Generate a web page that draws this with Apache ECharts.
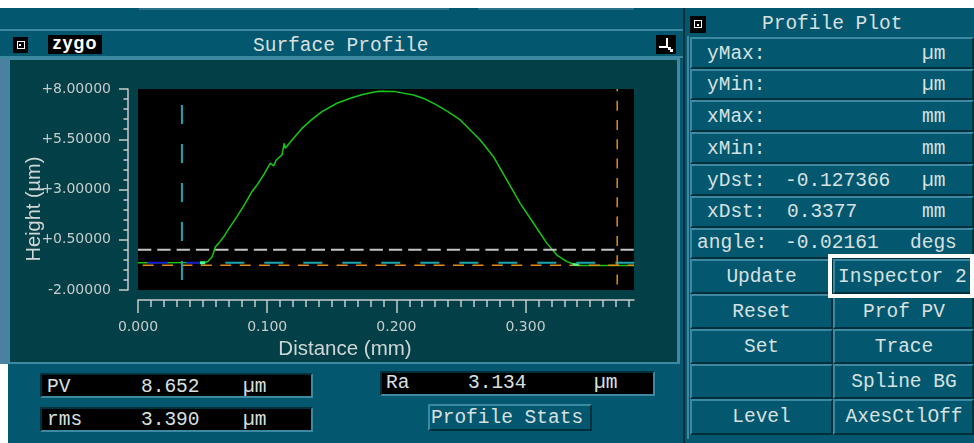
<!DOCTYPE html>
<html><head><meta charset="utf-8">
<script src="https://cdn.jsdelivr.net/npm/echarts@6/dist/echarts.min.js"></script>
<style>
html,body{margin:0;padding:0;background:#fff;width:974px;height:443px;overflow:hidden;}
#ui{position:absolute;left:0;top:0;width:974px;height:443px;overflow:hidden;font-family:"Liberation Mono",monospace;font-size:19.5px;color:#d8e0e0;}
.a{position:absolute;box-sizing:border-box;}
.t{position:absolute;white-space:pre;line-height:20px;height:20px;}
.c{position:absolute;white-space:pre;line-height:20px;height:20px;text-align:center;}
.r{background:#03586f;border-top:2px solid #3c89a1;border-left:2px solid #3c89a1;border-bottom:2px solid #01303c;border-right:2px solid #01303c;}
.s{background:#000;border-top:2px solid #01303c;border-left:2px solid #01303c;border-bottom:2px solid #3c89a1;border-right:2px solid #3c89a1;}
.ico{position:absolute;background:#000;}
.ico i{position:absolute;left:4px;top:4px;width:8px;height:8px;border:1px solid #fff;box-sizing:border-box;}
.ico b{position:absolute;width:2px;height:2px;background:#fff;}
#chart{position:absolute;left:0;top:0;width:974px;height:443px;pointer-events:none;}
</style></head><body>
<div id="ui">
  <!-- left window -->
  <div class="a" style="left:0;top:8px;width:690px;height:435px;background:#03586f"></div>
  <div class="a" style="left:139px;top:8px;width:310px;height:2px;background:#2a7189"></div>
  <div class="a" style="left:478px;top:8px;width:156px;height:2px;background:#2a7189"></div>
  <div class="a" style="left:0;top:29px;width:683px;height:2px;background:#3c89a1"></div>
  <div class="a" style="left:0;top:56px;width:683px;height:2px;background:#3c89a1"></div>
  <div class="a" style="left:0;top:58px;width:8px;height:306px;background:#4a80a0"></div>
  <div class="a" style="left:0;top:364px;width:8px;height:79px;background:#fff"></div>
  <div class="a" style="left:8px;top:58px;width:672px;height:306px;background:#3c89a1"></div>
  <div class="a" style="left:10px;top:60px;width:667px;height:302px;background:#023f47"></div>

  <div class="ico" style="left:13px;top:37px;width:15px;height:16px"><i></i><b style="left:6px;top:7px"></b></div>
  <div class="a" style="left:48px;top:35px;width:54px;height:19px;background:#000;color:#fff;font:bold 18px 'Liberation Sans',sans-serif;line-height:17px;text-align:center;letter-spacing:1px">zygo</div>
  <div class="t" style="left:253px;top:36px">Surface Profile</div>
  <div class="ico" style="left:656px;top:35px;width:20px;height:19px">
    <b style="left:10px;top:3px;width:2px;height:10px"></b>
    <b style="left:3px;top:11px;width:9px;height:2px"></b>
    <b style="left:12px;top:12px;width:3px;height:3px"></b>
    <b style="left:14px;top:14px;width:3px;height:3px"></b>
  </div>

  <!-- stats -->
  <div class="a s" style="left:40px;top:373px;width:273px;height:25px"></div>
  <div class="t" style="left:47px;top:377px">PV</div>
  <div class="t" style="left:141px;top:377px">8.652</div>
  <div class="t" style="left:243px;top:377px">µm</div>
  <div class="a s" style="left:40px;top:407px;width:273px;height:25px"></div>
  <div class="t" style="left:47px;top:410px">rms</div>
  <div class="t" style="left:141px;top:410px">3.390</div>
  <div class="t" style="left:243px;top:410px">µm</div>
  <div class="a s" style="left:380px;top:371px;width:275px;height:25px"></div>
  <div class="t" style="left:386px;top:373px">Ra</div>
  <div class="t" style="left:468px;top:373px">3.134</div>
  <div class="t" style="left:594px;top:373px">µm</div>
  <div class="a r" style="left:428px;top:404px;width:164px;height:27px"></div>
  <div class="t" style="left:431px;top:408px">Profile Stats</div>

  <!-- right panel -->
  <div class="a" style="left:683px;top:8px;width:291px;height:435px;background:#03586f;border-left:2px solid #01303c"></div>
  <div class="a" style="left:687px;top:36px;width:2px;height:403px;background:#3c89a1"></div>
  <div class="ico" style="left:690px;top:16px;width:16px;height:17px"><i></i><b style="left:7px;top:8px"></b></div>
  <div class="t" style="left:762px;top:14px">Profile Plot</div>

  <div class="a r" style="left:690px;top:37px;width:284px;height:32px"></div>
  <div class="a r" style="left:690px;top:69px;width:284px;height:31px"></div>
  <div class="a r" style="left:690px;top:100px;width:284px;height:32px"></div>
  <div class="a r" style="left:690px;top:132px;width:284px;height:32px"></div>
  <div class="a r" style="left:690px;top:164px;width:284px;height:32px"></div>
  <div class="a r" style="left:690px;top:196px;width:284px;height:32px"></div>
  <div class="a r" style="left:690px;top:228px;width:284px;height:31px"></div>
  <div class="t" style="left:707px;top:44px">yMax:</div><div class="t" style="left:922px;top:44px">µm</div>
  <div class="t" style="left:707px;top:75px">yMin:</div><div class="t" style="left:922px;top:75px">µm</div>
  <div class="t" style="left:707px;top:107px">xMax:</div><div class="t" style="left:922px;top:107px">mm</div>
  <div class="t" style="left:707px;top:139px">xMin:</div><div class="t" style="left:922px;top:139px">mm</div>
  <div class="t" style="left:707px;top:171px">yDst:</div><div class="t" style="left:785px;top:171px">-0.127366</div><div class="t" style="left:922px;top:171px">µm</div>
  <div class="t" style="left:707px;top:202px">xDst:</div><div class="t" style="left:787px;top:202px">0.3377</div><div class="t" style="left:922px;top:202px">mm</div>
  <div class="t" style="left:697px;top:233px">angle:</div><div class="t" style="left:785px;top:233px">-0.02161</div><div class="t" style="left:910px;top:233px">degs</div>

  <div class="a r" style="left:690px;top:259px;width:143px;height:35px"></div>
  <div class="a r" style="left:833px;top:259px;width:141px;height:35px"></div>
  <div class="a r" style="left:690px;top:294px;width:143px;height:35px"></div>
  <div class="a r" style="left:833px;top:294px;width:141px;height:35px"></div>
  <div class="a r" style="left:690px;top:329px;width:143px;height:35px"></div>
  <div class="a r" style="left:833px;top:329px;width:141px;height:35px"></div>
  <div class="a r" style="left:690px;top:364px;width:143px;height:35px"></div>
  <div class="a r" style="left:833px;top:364px;width:141px;height:35px"></div>
  <div class="a r" style="left:690px;top:399px;width:143px;height:36px"></div>
  <div class="a r" style="left:833px;top:399px;width:141px;height:36px"></div>
  <div class="a" style="left:828px;top:254px;width:146px;height:44px;border:4px solid #fff"></div>

  <div class="c" style="left:690px;width:143px;top:267px">Update</div>
  <div class="t" style="left:838px;top:267px">Inspector 2</div>
  <div class="c" style="left:690px;width:143px;top:302px">Reset</div>
  <div class="c" style="left:834px;width:140px;top:302px">Prof PV</div>
  <div class="c" style="left:690px;width:143px;top:337px">Set</div>
  <div class="c" style="left:834px;width:140px;top:337px">Trace</div>
  <div class="c" style="left:834px;width:140px;top:372px">Spline BG</div>
  <div class="c" style="left:690px;width:143px;top:407px">Level</div>
  <div class="c" style="left:834px;width:140px;top:407px">AxesCtlOff</div>
</div>
<div id="chart"></div>
<script>
// ---- data ----
const xRange = [0, 0.384];
const yRange = [-2, 8];
const xLabelValues = [0, 0.1, 0.2, 0.3];
const yLabelValues = [-2, 0.5, 3, 5.5, 8];
const profileX = [0, 0.0521, 0.0544, 0.0573, 0.0587, 0.0598, 0.0624, 0.0668, 0.0714, 0.0766, 0.0830,
  0.0882, 0.0921, 0.0972, 0.1024, 0.1050, 0.1070, 0.1115, 0.1132, 0.1140, 0.1204, 0.1269, 0.1347,
  0.1424, 0.1540, 0.1643, 0.1746, 0.1862, 0.1991, 0.2133, 0.2224, 0.2314, 0.2402, 0.2495, 0.2572,
  0.2649, 0.2752, 0.2856, 0.2959, 0.3062, 0.3166, 0.3243, 0.3320, 0.3372, 0.3408, 0.384];
const profileY = [-0.64, -0.63, -0.56, -0.36, -0.11, 0.14, 0.32, 0.69, 1.15, 1.65, 2.31,
  2.89, 3.22, 3.72, 4.31, 4.17, 4.47, 4.72, 5.30, 5.05, 5.55, 6.04, 6.49,
  6.87, 7.29, 7.54, 7.74, 7.89, 7.87, 7.70, 7.50, 7.20, 6.86, 6.46, 5.96,
  5.46, 4.63, 3.47, 2.31, 1.32, 0.32, -0.26, -0.59, -0.71, -0.78, -0.78];
const zeroLineY = 0;
const cursorX = [0.034, 0.371];
const cursorY = [-0.64, -0.767];
const cursorASpanY = [7.2, -1.5];
const cursorBSpanY = [8, -1.74];
const cyanLineStartX = 0.0676;
const orangeLineStartX = 0.0036;
const levelBlueX = [0.0073, 0.048];
const markerLeftX = [0.048, 0.052];
const markerRightX = [0.3365, 0.341];
const markerRightY = [-0.72, -0.76];

// ---- build ----
const xMinor = []; for (let i = 0; i <= 38; i++) xMinor.push(+(i / 100).toFixed(2));
const yMinor = []; for (let i = 0; i <= 20; i++) yMinor.push(yRange[0] + i * 0.5);
const pair = (xs, ys) => xs.map((x, i) => [x, ys[i]]);
const axisCol = '#c8cccc';
const lab = { color: axisCol, fontFamily: 'DejaVu Sans', fontSize: 14 };
const seg = (name, data, color, width, type, extra) => Object.assign({
  name, type: 'line', data, symbol: 'none', silent: true,
  lineStyle: { color, width, type }
}, extra || {});

const chart = echarts.init(document.getElementById('chart'), null, { renderer: 'canvas' });
chart.setOption({
  animation: false,
  backgroundColor: 'transparent',
  grid: { left: 138, top: 89, width: 496, height: 201, show: true, backgroundColor: '#000', borderWidth: 0 },
  xAxis: [
    { type: 'value', min: xRange[0], max: xRange[1], position: 'bottom', offset: 10,
      axisLine: { show: true, onZero: false, lineStyle: { color: axisCol, width: 1.5 } },
      axisTick: { show: true, customValues: xMinor, length: 7, lineStyle: { color: axisCol, width: 1.5 } },
      axisLabel: Object.assign({ show: true, customValues: xLabelValues, margin: 20, formatter: v => v.toFixed(3) }, lab),
      splitLine: { show: false } },
    { type: 'value', min: xRange[0], max: xRange[1], position: 'bottom', offset: 10,
      axisLine: { show: false, onZero: false },
      axisTick: { show: true, customValues: xLabelValues, length: 13, lineStyle: { color: axisCol, width: 1.5 } },
      axisLabel: { show: false }, splitLine: { show: false } }
  ],
  yAxis: [
    { type: 'value', min: yRange[0], max: yRange[1], position: 'left', offset: 10,
      axisLine: { show: true, onZero: false, lineStyle: { color: axisCol, width: 1.5 } },
      axisTick: { show: true, customValues: yMinor, length: 4.5, lineStyle: { color: axisCol, width: 1.5 } },
      axisLabel: Object.assign({ show: true, customValues: yLabelValues, margin: 17,
        formatter: v => (v >= 0 ? '+' : '') + v.toFixed(5) }, lab),
      splitLine: { show: false } },
    { type: 'value', min: yRange[0], max: yRange[1], position: 'left', offset: 10,
      axisLine: { show: false, onZero: false },
      axisTick: { show: true, customValues: yLabelValues, length: 9, lineStyle: { color: axisCol, width: 1.5 } },
      axisLabel: { show: false }, splitLine: { show: false } }
  ],
  graphic: [
    { type: 'text', x: 34, y: 209, rotation: Math.PI / 2,
      style: { text: 'Height (µm)', fill: '#d0d6d6', font: '20px "Liberation Sans"', align: 'center', verticalAlign: 'middle' } },
    { type: 'text', x: 345, y: 349,
      style: { text: 'Distance (mm)', fill: '#d0d6d6', font: '20.5px "Liberation Sans"', align: 'center', verticalAlign: 'middle' } }
  ],
  series: [
    seg('profile', pair(profileX, profileY), '#14c814', 1.5, 'solid', { z: 2 }),
    seg('zero', [[xRange[0], zeroLineY], [xRange[1], zeroLineY]], '#c4c4c4', 2, [13.3, 6], { z: 3 }),
    seg('cursorLevelB', [[orangeLineStartX, cursorY[1]], [xRange[1], cursorY[1]]], '#e48a1c', 1.5, [11, 8.4], { z: 4 }),
    seg('cursorLevelA', [[cyanLineStartX, cursorY[0]], [xRange[1], cursorY[0]]], '#1aa6b2', 2, [19, 20], { z: 4 }),
    seg('levelRegion', [[levelBlueX[0], cursorY[0]], [levelBlueX[1], cursorY[0]]], '#1818cc', 2, [20, 19], { z: 5 }),
    seg('markerL', [[markerLeftX[0], cursorY[0]], [markerLeftX[1], cursorY[0]]], '#40ff90', 3, 'solid', { z: 6 }),
    seg('markerR', pair(markerRightX, markerRightY), '#40ff90', 2.5, 'solid', { z: 6 }),
    seg('cursorA', [[cursorX[0], cursorASpanY[0]], [cursorX[0], cursorASpanY[1]]], '#1aa6b2', 2, [19, 20], { z: 7 }),
    seg('cursorB', [[cursorX[1], cursorBSpanY[0]], [cursorX[1], cursorBSpanY[1]]], '#e48a1c', 1.5, [10, 9.33],
      { z: 7, lineStyle: { color: '#e48a1c', width: 1.5, type: [10, 9.33], dashOffset: 7.7 } })
  ]
});
</script>
</body></html>
